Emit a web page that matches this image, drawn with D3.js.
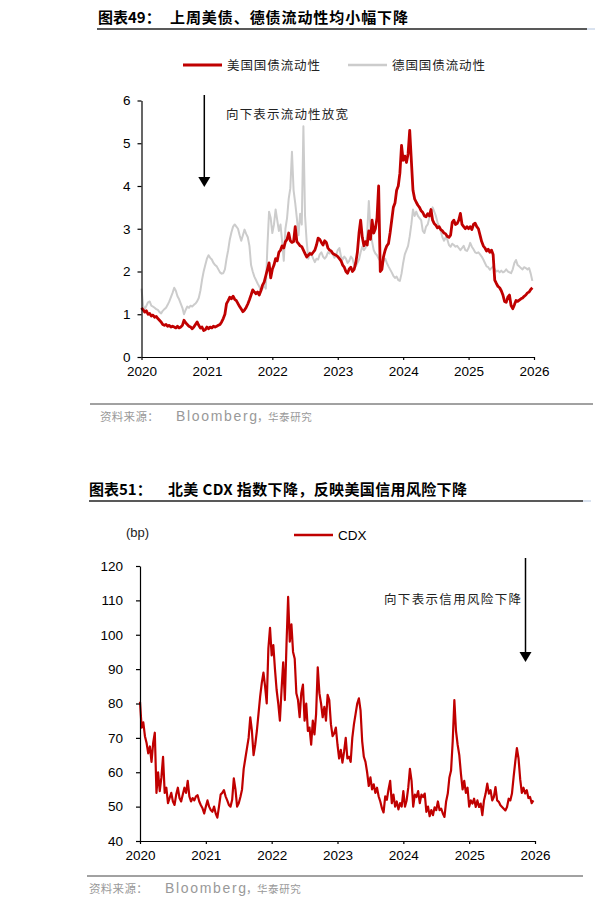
<!DOCTYPE html>
<html>
<head>
<meta charset="utf-8">
<title>liquidity and CDX</title>
<style>
  body{margin:0;background:#fff;}
  svg text{font-family:"Liberation Sans",Arial,"Noto Sans CJK SC",sans-serif;}
  .cjk{font-family:"Noto Sans CJK SC",sans-serif;}
</style>
</head>
<body>
<div id="container"></div>
<script src="https://cdn.jsdelivr.net/npm/d3@7"></script>
<script>
// ---- data: one value every 1/40 year starting 2020.0
var startYear = 2020, stepYear = 1/40;
var yearTicks = [2020,2021,2022,2023,2024,2025,2026];
var liqTicks = [0,1,2,3,4,5,6];
var cdxTicks = [40,50,60,70,80,90,100,110,120];

var usLiquidity = [
  1.15,1.1,1.05,1.08,1.0,1.02,0.96,0.98,0.93,0.95,0.9,0.86,0.82,0.76,0.74,0.76,0.72,0.74,0.7,0.72,
  0.7,0.68,0.72,0.68,0.7,0.74,0.86,0.8,0.76,0.72,0.7,0.66,0.7,0.76,0.82,0.74,0.68,0.7,0.62,0.64,
  0.7,0.66,0.7,0.68,0.72,0.7,0.72,0.74,0.76,0.82,0.9,1.0,1.25,1.32,1.4,1.36,1.42,1.35,1.32,1.25,
  1.18,1.12,1.06,1.1,1.16,1.24,1.34,1.45,1.57,1.52,1.48,1.52,1.45,1.55,1.68,1.75,1.9,2.05,2.2,1.85,
  2.05,2.15,2.3,2.25,2.45,2.5,2.6,2.55,2.7,2.75,2.9,2.72,2.68,2.7,3.05,2.7,2.65,2.6,2.58,2.5,
  2.42,2.34,2.38,2.42,2.4,2.45,2.5,2.62,2.78,2.75,2.68,2.62,2.72,2.68,2.55,2.5,2.48,2.42,2.4,2.38,
  2.35,2.3,2.25,2.15,2.1,2.0,1.96,2.06,2.1,2.0,2.05,2.2,2.45,2.9,3.2,2.8,2.6,2.7,2.62,2.95,
  2.75,3.2,2.9,3.0,3.25,4.0,2.0,2.05,2.35,2.5,2.6,2.65,2.9,3.2,3.5,3.6,3.9,4.0,4.3,4.95,
  4.6,4.7,4.55,4.75,5.3,4.6,3.9,3.7,3.62,3.55,3.5,3.42,3.38,3.3,3.28,3.35,3.3,3.45,3.2,3.12,
  3.08,3.02,3.05,2.98,2.95,2.9,2.88,2.82,2.8,2.85,3.15,3.2,3.1,3.12,3.2,3.36,3.1,3.05,3.0,3.05,
  3.0,3.05,2.98,3.1,3.13,3.05,3.0,2.85,2.7,2.6,2.55,2.48,2.52,2.45,2.5,2.4,1.8,1.72,1.65,1.62,
  1.55,1.45,1.3,1.28,1.4,1.45,1.2,1.13,1.22,1.32,1.3,1.33,1.36,1.38,1.42,1.45,1.5,1.52,1.58,1.62
];

var deLiquidity = [
  1.6,1.2,1.12,1.2,1.28,1.3,1.2,1.18,1.15,1.12,1.1,1.05,1.02,1.08,1.12,1.15,1.22,1.3,1.4,1.5,
  1.62,1.55,1.42,1.35,1.25,1.15,1.0,1.1,1.18,1.15,1.2,1.18,1.22,1.25,1.3,1.38,1.55,1.8,2.0,2.15,
  2.3,2.38,2.32,2.28,2.2,2.15,2.12,2.05,1.98,1.95,1.96,2.05,2.3,2.5,2.75,2.92,3.05,3.1,3.05,3.0,
  2.85,2.72,2.85,2.98,2.88,2.8,2.6,2.15,2.0,1.88,1.8,1.72,1.65,1.55,1.6,1.7,1.6,2.6,3.4,3.25,
  2.9,3.1,3.45,3.2,2.95,3.1,2.7,2.25,3.0,3.25,3.7,3.95,4.8,3.9,3.6,3.25,2.85,3.35,3.1,5.4,
  3.3,2.7,2.3,2.45,2.4,2.3,2.22,2.3,2.28,2.4,2.45,2.35,2.3,2.35,2.45,2.42,2.48,2.4,2.32,2.38,
  2.5,2.55,2.35,2.28,2.35,2.3,2.2,2.25,2.35,2.3,2.15,2.12,2.2,2.28,2.45,2.58,2.5,2.55,2.9,3.65,
  3.0,2.7,2.5,2.42,2.38,2.3,2.25,2.2,2.25,2.3,2.2,2.12,2.05,1.98,1.9,1.85,1.88,1.8,1.78,1.95,
  2.2,2.4,2.5,2.6,2.82,3.1,3.45,3.3,3.4,3.3,3.25,3.2,2.95,2.9,3.05,3.1,3.25,3.35,3.5,3.4,
  3.3,3.15,3.05,2.95,2.8,2.72,2.8,2.75,2.62,2.58,2.65,2.62,2.58,2.6,2.55,2.5,2.55,2.6,2.5,2.48,
  2.55,2.67,2.58,2.52,2.45,2.43,2.45,2.4,2.35,2.28,2.2,2.12,2.1,2.04,2.08,2.12,2.05,2.0,2.02,1.98,
  2.02,1.98,2.0,2.05,2.0,1.98,1.96,2.05,2.2,2.27,2.15,2.12,2.08,2.05,2.1,2.08,2.05,2.08,1.95,1.78
];

var cdxSpread = [
  80.5,73,74.5,70.5,68.5,65.5,67.5,63,68.5,71.5,54,60,54.5,58.5,64.5,54,55.5,51,52.5,54,
  51.5,50.5,53.5,55.5,52.5,51.5,53.5,55.5,54,57.5,53,51.5,52.5,51.8,53,53.3,51.5,50.4,49.5,48,
  50,51.8,50,49,48.5,50,48,46.8,50,53.5,54,54.8,53,51.8,50.5,50,52,58.2,55,50,
  51,52.8,55,61,64,67,70,76,72,65,68,72,77,82,86,89,85,80,96,102,
  94,97,90,84,80,75,84,92,81,97,111,98,103,95,93,83,81,76,83,85.5,
  75,80,72,73,68,75,71,77,90.5,83,80,76,79,75,82.5,81,74,70.5,71.3,73,
  68,64,66.5,62.8,66,70,64,64.5,63,70,74,77,80,81.5,78,69,64.5,63,60,56,
  58.5,55,56.5,54,55.5,53,51.5,49.5,48.3,53,52,55,57.5,51,53.5,50,51.5,49.2,51,50,
  54.5,50,51.8,55.5,61,57.5,50,53.5,52.8,54.5,51,53.5,52.8,53.8,48.5,50,47.2,49,47.5,49.8,
  49,51.5,49,49.4,48,47,51.5,53.8,58.5,60.5,69,81,72,68,65,59.5,55,57.5,54,55.5,
  50,51.8,50.9,52.3,49.9,51.8,49.9,50.9,47.5,51.8,53.8,56.7,53.8,54.8,51.8,52.8,55.7,51.8,51.4,50.4,
  49.9,49.4,48.9,49.9,52.3,51.8,53.8,58.6,63,67,64,58,54,55.5,53.8,54.8,52.5,52.8,51,51.8
];

var red = "#c00000", grey = "#cccccc";

var svg = d3.select("#container").append("svg")
    .attr("width", 598).attr("height", 907);
svg.append("rect").attr("width",598).attr("height",907).attr("fill","#fff");

function toPoints(vals){
  return vals.map(function(v,i){ return {t: startYear + i*stepYear, v: v}; });
}

function drawAxes(g, x, y, yVals, yPad){
  g.append("g")
    .attr("transform","translate(" + x.range()[0] + ",0)")
    .call(d3.axisLeft(y).tickValues(yVals).tickFormat(d3.format("d"))
      .tickSize(4).tickSizeOuter(0).tickPadding(yPad));
  g.append("g")
    .attr("transform","translate(0," + y.range()[0] + ")")
    .call(d3.axisBottom(x).tickValues(yearTicks).tickFormat(d3.format("d"))
      .tickSize(3).tickSizeOuter(0).tickPadding(6));
  g.selectAll(".domain, .tick line").attr("stroke","#000").attr("stroke-width",1.2);
  g.selectAll(".tick text").attr("fill","#000").style("font-size","13.5px")
    .style("font-family","'Liberation Sans',Arial,sans-serif");
}

function arrow(g, xp, y0, y1){
  g.append("line").attr("x1",xp).attr("x2",xp).attr("y1",y0).attr("y2",y1-8)
    .attr("stroke","#000").attr("stroke-width",1.5);
  g.append("path").attr("d","M"+(xp-6)+","+(y1-10)+"L"+(xp+6)+","+(y1-10)+"L"+xp+","+y1+"Z")
    .attr("fill","#000");
}

function title(txtA, txtB, xA, xB, wB, yb, x0, x1){
  svg.append("text").attr("class","cjk").attr("x",xA).attr("y",yb)
    .style("font-size","15px").style("font-weight","bold").attr("fill","#000").text(txtA);
  svg.append("text").attr("class","cjk").attr("x",xB).attr("y",yb)
    .attr("textLength",wB).attr("lengthAdjust","spacing")
    .style("font-size","15px").style("font-weight","bold").attr("fill","#000").text(txtB);
  svg.append("line").attr("x1",x0).attr("x2",x1).attr("y1",yb+6).attr("y2",yb+6)
    .attr("stroke","#222").attr("stroke-width",1.3);
  svg.append("line").attr("x1",x1).attr("x2",x1+8).attr("y1",yb+6).attr("y2",yb+6)
    .attr("stroke","#c5d3e6").attr("stroke-width",1.3);
}

function source(yl, x0, x1, xt){
  var yb = yl + 17;
  svg.append("line").attr("x1",x0).attr("x2",x1).attr("y1",yl).attr("y2",yl)
    .attr("stroke","#444").attr("stroke-width",1);
  svg.append("text").attr("class","cjk").attr("x",xt).attr("y",yb)
    .style("font-size","11.5px").style("letter-spacing","0.3px")
    .attr("fill","#999").text("资料来源：");
  svg.append("text").attr("x",xt+76).attr("y",yb)
    .attr("textLength",81).attr("lengthAdjust","spacing")
    .style("font-size","14px").attr("fill","#999").text("Bloomberg");
  svg.append("text").attr("class","cjk").attr("x",xt+157).attr("y",yb)
    .style("font-size","11.5px").attr("fill","#999").text("，");
  svg.append("text").attr("class","cjk").attr("x",xt+168).attr("y",yb)
    .style("font-size","10.5px").style("letter-spacing","0.6px")
    .attr("fill","#999").text("华泰研究");
}

// ================= chart 49 =================
title("图表49：", "上周美债、德债流动性均小幅下降", 98, 170, 238, 23, 97, 587);

var x1 = d3.scaleLinear().domain([2020,2026]).range([141.5,534]);
var y1 = d3.scaleLinear().domain([0,6]).range([357,100.5]);
var g1 = svg.append("g");

// legend
var leg1 = [{name:"美国国债流动性", c:red, w:3, x:183}, {name:"德国国债流动性", c:grey, w:2.5, x:348}];
leg1.forEach(function(d){
  g1.append("line").attr("x1",d.x).attr("x2",d.x+39).attr("y1",65).attr("y2",65)
    .attr("stroke",d.c).attr("stroke-width",d.w);
  g1.append("text").attr("class","cjk").attr("x",d.x+44).attr("y",69.5)
    .attr("textLength",93).attr("lengthAdjust","spacing")
    .style("font-size","12.5px").attr("fill","#222").text(d.name);
});

var line1 = d3.line().x(function(d){return x1(d.t);}).y(function(d){return y1(d.v);});
g1.append("path").datum(toPoints(deLiquidity)).attr("d",line1)
  .attr("fill","none").attr("stroke",grey).attr("stroke-width",2).attr("stroke-linejoin","round");
g1.append("path").datum(toPoints(usLiquidity)).attr("d",line1)
  .attr("fill","none").attr("stroke",red).attr("stroke-width",2.8).attr("stroke-linejoin","round");

drawAxes(g1, x1, y1, liqTicks, 7);

arrow(g1, x1(2020.96), 95, 187);
g1.append("text").attr("class","cjk").attr("x",226).attr("y",119)
  .attr("textLength",122).attr("lengthAdjust","spacing")
  .style("font-size","12.5px").attr("fill","#222").text("向下表示流动性放宽");

source(404, 90, 593, 100);

// ================= chart 51 =================
title("图表51：", "北美 CDX 指数下降，反映美国信用风险下降", 89, 168, 299, 495, 89, 583);

var x2 = d3.scaleLinear().domain([2020,2026]).range([140,535]);
var y2 = d3.scaleLinear().domain([40,120]).range([841,566]);
var g2 = svg.append("g");

g2.append("text").attr("x",126).attr("y",537).style("font-size","13px").attr("fill","#222").text("(bp)");
g2.append("line").attr("x1",294).attr("x2",333).attr("y1",535).attr("y2",535)
  .attr("stroke",red).attr("stroke-width",2.5);
g2.append("text").attr("x",338).attr("y",540).style("font-size","13.5px").attr("fill","#000").text("CDX");

var line2 = d3.line().x(function(d){return x2(d.t);}).y(function(d){return y2(d.v);});
g2.append("path").datum(toPoints(cdxSpread)).attr("d",line2)
  .attr("fill","none").attr("stroke",red).attr("stroke-width",2.2).attr("stroke-linejoin","round");

drawAxes(g2, x2, y2, cdxTicks, 13);

arrow(g2, 525.5, 558, 662);
g2.append("text").attr("class","cjk").attr("x",384).attr("y",604)
  .attr("textLength",137).attr("lengthAdjust","spacing")
  .style("font-size","12.5px").attr("fill","#222").text("向下表示信用风险下降");

source(876, 87, 583, 89);
</script>
</body>
</html>
